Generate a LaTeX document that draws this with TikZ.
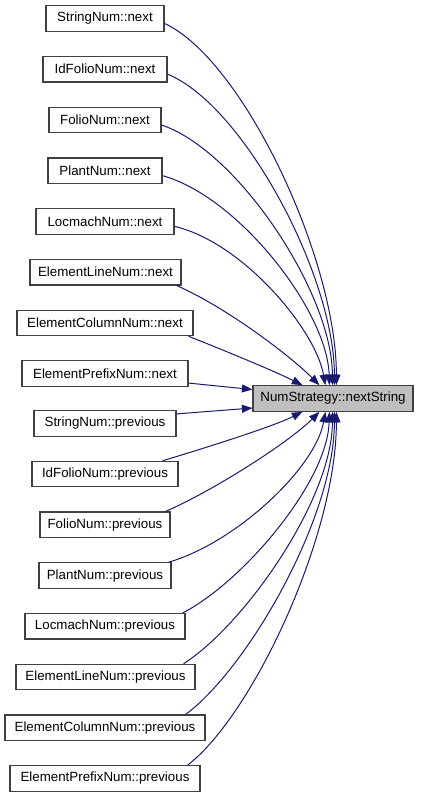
\documentclass[tikz,border=0pt]{standalone}
\usepackage{fontspec}
\setmainfont{Liberation Sans}
\usetikzlibrary{arrows.meta,calc}
\definecolor{edgec}{HTML}{191970}
\definecolor{boxc}{HTML}{404040}
\definecolor{tgtfill}{HTML}{BFBFBF}
\tikzset{
  fn/.style={draw=boxc, line width=1.2pt, fill=white, minimum height=25.5pt, inner xsep=0pt, inner ysep=0pt,
    font=\fontsize{13.33}{16}\selectfont, anchor=center},
  tgt/.style={fn, fill=tgtfill},
  edge/.style={draw=edgec, line width=1pt, -{Triangle[length=10.5pt,width=8pt]}, fill=none}
}
\begin{document}
\begin{tikzpicture}[x=1pt,y=-1pt]
\useasboundingbox (0,0) rectangle (424,797);
\node[fn, minimum width=118pt] (n1) at (105,18.5) {StringNum::next};
\node[fn, minimum width=124pt] (n2) at (105,69.2) {IdFolioNum::next};
\node[fn, minimum width=112pt] (n3) at (105,120) {FolioNum::next};
\node[fn, minimum width=114pt] (n4) at (105,170.7) {PlantNum::next};
\node[fn, minimum width=138pt] (n5) at (105,221.4) {LocmachNum::next};
\node[fn, minimum width=151pt] (n6) at (105.5,272.2) {ElementLineNum::next};
\node[fn, minimum width=176pt] (n7) at (105,322.9) {ElementColumnNum::next};
\node[fn, minimum width=166pt] (n8) at (105,373.6) {ElementPrefixNum::next};
\node[fn, minimum width=142pt] (n9) at (105,423.4) {StringNum::previous};
\node[fn, minimum width=146pt] (n10) at (105,474.1) {IdFolioNum::previous};
\node[fn, minimum width=130pt] (n11) at (105,524.8) {FolioNum::previous};
\node[fn, minimum width=132pt] (n12) at (105,575.6) {PlantNum::previous};
\node[fn, minimum width=160pt] (n13) at (105,626.3) {LocmachNum::previous};
\node[fn, minimum width=179pt] (n14) at (105.5,677) {ElementLineNum::previous};
\node[fn, minimum width=200pt] (n15) at (105,727.8) {ElementColumnNum::previous};
\node[fn, minimum width=190pt] (n16) at (105,778.5) {ElementPrefixNum::previous};
\node[tgt, minimum width=160pt] (t) at (333,398.5) {NumStrategy::nextString};

% upper edges
\draw[edge] ($(n1.east)+(0,5)$) .. controls +(78,36) and +(0,-127) .. ($(t.north west)+(84,0)$);
\draw[edge] ($(n2.east)+(0,5)$) .. controls +(76,31) and +(0,-109) .. ($(t.north west)+(82,0)$);
\draw[edge] ($(n3.east)+(0,5)$) .. controls +(77,26) and +(0,-91) .. ($(t.north west)+(80,0)$);
\draw[edge] ($(n4.east)+(0,5)$) .. controls +(76,21) and +(-2,-74) .. ($(t.north west)+(77,0)$);
\draw[edge] ($(n5.east)+(0,5)$) .. controls +(68,16) and +(-10,-56) .. ($(t.north west)+(73,0)$);
\draw[edge] ($(n6.south east)+(-5,0)$) .. controls +(50,22) and +(-30,-30) .. ($(t.north west)+(67,0)$);
\draw[edge] ($(n7.south east)+(-5,0)$) .. controls +(35,14) and +(-30,-15) .. ($(t.north west)+(50,0)$);
\draw[edge] ($(n8.east)+(0,9.5)$) -- ($(t.west)+(0,-9)$);
% lower edges
\draw[edge] ($(n9.east)+(0,-9.5)$) -- ($(t.west)+(0,9.5)$);
\draw[edge] ($(n10.north east)+(-16,0)$) .. controls +(40,-12) and +(-30,15) .. ($(t.south west)+(50,0)$);
\draw[edge] ($(n11.north east)+(-5,0)$) .. controls +(50,-22) and +(-30,30) .. ($(t.south west)+(67,0)$);
\draw[edge] ($(n12.north east)+(-3,0)$) .. controls +(68,-20) and +(-10,56) .. ($(t.south west)+(73,0)$);
\draw[edge] ($(n13.north east)+(-3,0)$) .. controls +(59,-30) and +(-2,71) .. ($(t.south west)+(77,0)$);
\draw[edge] ($(n14.north east)+(-12,0)$) .. controls +(60,-38) and +(0,88) .. ($(t.south west)+(80,0)$);
\draw[edge] ($(n15.north east)+(-20,0)$) .. controls +(62,-46) and +(0,106) .. ($(t.south west)+(82,0)$);
\draw[edge] ($(n16.north east)+(-13,0)$) .. controls +(65,-50) and +(0,124) .. ($(t.south west)+(84,0)$);
\end{tikzpicture}
\end{document}
